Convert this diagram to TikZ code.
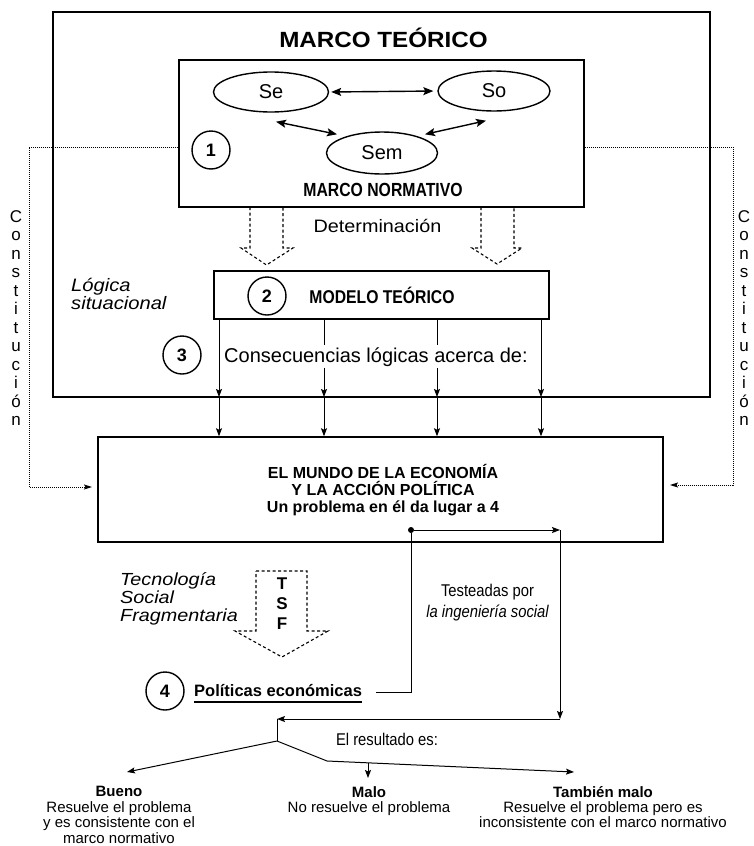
\documentclass[tikz,border=0pt]{standalone}
\usepackage{fontspec}
\setmainfont{Liberation Sans}
\usetikzlibrary{arrows.meta,shapes.geometric}
\newcommand{\myfs}[3]{\fontsize{#1}{#2}\selectfont\addfontfeature{FakeStretch=#3}}
\begin{document}
\begin{tikzpicture}[x=1pt,y=-1pt,
  box/.style={draw, line width=1.5pt, inner sep=0pt},
  ell/.style={draw, ellipse, line width=1.4pt, inner sep=0pt, font=\myfs{20}{22}{1}},
  num/.style={draw, circle, line width=1.4pt, minimum size=38pt, inner sep=0pt, font=\bfseries\myfs{18}{20}{1}},
  txt/.style={inner sep=0pt},
  arr/.style={line width=1pt, -{Stealth[length=8pt,width=6pt,inset=1.5pt]}},
  dbl/.style={line width=1.4pt, {Stealth[length=10pt,width=8pt,inset=2pt]}-{Stealth[length=10pt,width=8pt,inset=2pt]}},
  dotline/.style={line width=1pt, dash pattern=on 1pt off 1pt, -{Stealth[length=8pt,width=5pt,inset=1.5pt]}},
  plain/.style={line width=1pt},
  hollow/.style={line width=1.1pt, dash pattern=on 3pt off 2.5pt},
  cst/.style={inner sep=0pt, font=\myfs{17}{18}{1}}
]
\useasboundingbox (0,0) rectangle (753,846);

% ---- outer frame
\node[box, minimum width=657pt, minimum height=385pt] (outer) at (381.5,204.5) {};
\node[txt, anchor=base, font=\bfseries\myfs{22}{24}{1.1}] (title) at (383.5,47.5) {MARCO TEÓRICO};

% ---- marco normativo
\node[box, minimum width=405pt, minimum height=147pt] (nm) at (381.5,133.5) {};
\node[ell, minimum width=115pt, minimum height=40pt] (se) at (271,92) {Se};
\node[ell, minimum width=112pt, minimum height=40pt] (so) at (494,91) {So};
\node[ell, minimum width=111pt, minimum height=42pt] (sem) at (382,153) {Sem};
\node[num] (c1) at (211,150) {1};
\node[txt, anchor=base, font=\bfseries\myfs{19}{20}{0.83}] (mnt) at (383,196.5) {MARCO NORMATIVO};

\draw[dbl, shorten <=2pt, shorten >=4pt] (se.east) -- (so.west);
\draw[dbl] ([shift={(5,9)}]se.south) -- ([shift={(-45,3)}]sem.north);
\draw[dbl] ([shift={(43,3)}]sem.north) -- ([shift={(-8,9)}]so.south);

% ---- determinacion
\draw[hollow] (250,207) -- (250,248) -- (241,248) -- (266.5,265) -- (293,248) -- (283,248) -- (283,207);
\draw[hollow] (481,207) -- (481,248) -- (472,248) -- (497,264) -- (522,248) -- (514,248) -- (514,207);
\node[txt, anchor=base, font=\myfs{18}{20}{1.1}] (det) at (377.5,232) {Determinación};

% ---- modelo teorico
\node[box, minimum width=335pt, minimum height=48pt] (mod) at (381.5,295) {};
\node[num] (c2) at (267,296) {2};
\node[txt, anchor=base, font=\bfseries\myfs{18.5}{20}{0.85}] (modt) at (382,303) {MODELO TEÓRICO};
\node[txt, anchor=north west, align=left, font=\itshape\myfs{18}{18}{1.12}] (log) at (71,278.5) {Lógica\\situacional};

% ---- consecuencias arrows
\foreach \i/\x in {1/219,2/324,3/437,4/541}{
  \coordinate (b\i) at (\x,397);
  \draw[arr] (mod.south -| b\i) -- (b\i);
}
\node[num] (c3) at (182,355) {3};
\node[anchor=base west, inner sep=2pt, fill=white, font=\myfs{20}{22}{1}] (cons) at (222,362) {Consecuencias lógicas acerca de:};

% ---- mundo
\node[box, minimum width=565pt, minimum height=105pt] (mundo) at (380.5,489.5) {};
\foreach \i in {1,2,3,4}{
  \draw[arr] (b\i) -- (mundo.north -| b\i);
}
\node[txt, anchor=north, align=center, font=\bfseries\myfs{16}{17}{1}] (mundot) at (383,464) {EL MUNDO DE LA ECONOMÍA\\Y LA ACCIÓN POLÍTICA\\Un problema en él da lugar a 4};

% ---- constitucion
\foreach \l [count=\i from 0] in {C,o,n,s,t,i,t,u,c,i,ó,n}{
  \node[cst, anchor=base] (cl\i) at (16,{222+18.5*\i}) {\l};
  \node[cst, anchor=base] (cr\i) at (744,{222+18.5*\i}) {\l};
}
\coordinate (L1) at (29,147);
\coordinate (L2) at (29,487);
\coordinate (L3) at (92,487);
\coordinate (R1) at (733,147);
\coordinate (R2) at (733,485);
\coordinate (R3) at (670,485);
\draw[dotline] (nm.west |- L1) -- (L1) -- (L2) -- (L3);
\draw[dotline] (nm.east |- R1) -- (R1) -- (R2) -- (R3);

% ---- TSF
\node[txt, anchor=north west, align=left, font=\itshape\myfs{17.5}{18}{1.13}] (tec) at (120,572) {Tecnología\\Social\\Fragmentaria};
\draw[hollow] (256,571) -- (307,571) -- (307,631) -- (328,631) -- (282,657) -- (235,631) -- (256,631) -- cycle;
\node[txt, align=center, font=\bfseries\myfs{17}{20}{1}] (tsf) at (282,604) {T\\S\\F};

% ---- politicas
\node[num] (c4) at (165,691) {4};
\node[txt, anchor=base west, font=\bfseries\myfs{16.5}{18}{1}] (pol) at (194,696.5) {Políticas económicas};
\draw[line width=1.4pt] ([yshift=-5.5pt]pol.base west) -- ([yshift=-5.5pt]pol.base east);

\node[circle, fill, inner sep=0pt, minimum size=6pt] (dot) at (411,530) {};
\coordinate (pc) at (411,692);
\coordinate (tr) at (560,530);
\coordinate (br) at (560,719);
\coordinate (bl) at (277,719);
\coordinate (sp) at (277,741);
\draw[plain] (pol.east |- pc) ++(14,0) -- (pc) -- (dot);
\draw[arr] (dot) -- (tr);
\draw[arr] (tr) -- (br);
\draw[arr] (br) -- (bl);
\draw[plain] (bl) -- (sp);

\node[txt, anchor=north, align=center, font=\myfs{17}{20.5}{0.87}] (test) at (487.5,584) {Testeadas por\\\itshape la ingeniería social};
\node[txt, anchor=base, font=\myfs{17}{18}{0.87}] (res) at (387,745) {El resultado es:};

% ---- results
\node[txt, anchor=north, align=center, font=\myfs{15}{15.7}{1}] (bueno) at (119,786) {\textbf{Bueno}\\Resuelve el problema\\y es consistente con el\\marco normativo};
\node[txt, anchor=north, align=center, font=\myfs{15}{15.7}{1}] (malo) at (369,786) {\textbf{Malo}\\No resuelve el problema};
\node[txt, anchor=north, align=center, font=\myfs{15}{15.2}{1}] (tmalo) at (603,786) {\textbf{También malo}\\Resuelve el problema pero es\\inconsistente con el marco normativo};

\coordinate (tb) at (127,772);
\coordinate (kk) at (327,761);
\coordinate (tt) at (574,772);
\coordinate (ms) at (368,763);
\coordinate (me) at (368,778);
\draw[arr] (sp) -- (tb);
\draw[arr] (sp) -- (kk) -- (tt);
\draw[arr] (ms) -- (me);
\end{tikzpicture}
\end{document}
